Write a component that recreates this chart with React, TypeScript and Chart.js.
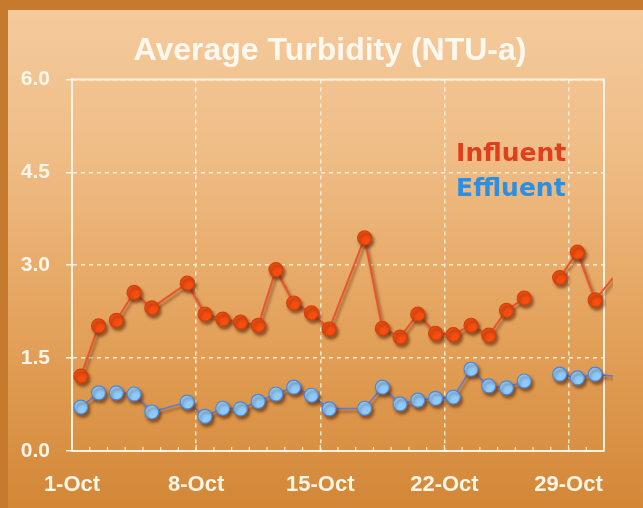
import { useEffect, useRef } from "react";
import { Chart, registerables } from "chart.js";

Chart.register(...registerables);

// ---- data ----
const days = [1, 2, 3, 4, 5, 7, 8, 9, 10, 11, 12, 13, 14, 15, 17, 18, 19, 20, 21, 22, 23, 24, 25, 26, 27, 28, 29, 30, 31];
const influent = [1.21, 2.02, 2.11, 2.56, 2.31, 2.71, 2.21, 2.13, 2.08, 2.03, 2.93, 2.39, 2.23, 1.97, 3.44, 1.98, 1.84, 2.21, 1.9, 1.88, 2.03, 1.87, 2.27, 2.47, null, 2.8, 3.21, 2.44, 2.79];
const effluent = [0.71, 0.94, 0.94, 0.92, 0.63, 0.79, 0.56, 0.69, 0.68, 0.8, 0.92, 1.03, 0.9, 0.68, 0.69, 1.03, 0.76, 0.82, 0.85, 0.87, 1.32, 1.05, 1.02, 1.13, null, 1.24, 1.18, 1.24, 1.21];
const lineBreaksAfterDay = [2];
const axisFirstDay = 1;
const axisLastDay = 30;
const xTickDays = [1, 8, 15, 22, 29];
const xTickLabels = ["1-Oct", "8-Oct", "15-Oct", "22-Oct", "29-Oct"];
const yTicks = [0, 1.5, 3.0, 4.5, 6.0];
const seriesNames = ["Influent", "Effluent"];

const W = 643;
const H = 508;
const FONT = "'Liberation Sans', Arial, sans-serif";

const bgPlugin = {
  id: "bg",
  beforeDraw(chart: any) {
    const { ctx, width, height } = chart;
    ctx.save();
    ctx.fillStyle = "#c67a2d";
    ctx.fillRect(0, 0, width, height);
    const g = ctx.createLinearGradient(0, 10, 0, height);
    g.addColorStop(0, "#f4ca9c");
    g.addColorStop(0.3, "#efbc85");
    g.addColorStop(0.65, "#e3a15a");
    g.addColorStop(1, "#d38737");
    ctx.fillStyle = g;
    ctx.fillRect(8, 10, width - 8, height - 10);
    ctx.restore();
  },
};

const framePlugin = {
  id: "frame",
  beforeDatasetsDraw(chart: any) {
    const { ctx, chartArea } = chart;
    const xs = chart.scales.x;
    ctx.save();
    ctx.strokeStyle = "rgba(255,246,232,0.95)";
    ctx.lineWidth = 2;
    ctx.beginPath();
    ctx.moveTo(chartArea.left, chartArea.top);
    ctx.lineTo(chartArea.right, chartArea.top);
    ctx.lineTo(chartArea.right, chartArea.bottom);
    ctx.stroke();
    // small inner day ticks on x axis
    ctx.lineWidth = 1.2;
    for (let d = axisFirstDay; d <= axisLastDay + 1; d++) {
      const px = xs.getPixelForValue(d - 0.5);
      const major = xTickDays.includes(d);
      ctx.beginPath();
      ctx.moveTo(px, chartArea.bottom);
      ctx.lineTo(px, chartArea.bottom - (major ? 6 : 4));
      ctx.stroke();
    }
    ctx.restore();
  },
};

const shadowPlugin = {
  id: "shadow",
  beforeDatasetDraw(chart: any) {
    const c = chart.ctx;
    c.save();
    c.shadowColor = "rgba(80,30,0,0.55)";
    c.shadowBlur = 3;
    c.shadowOffsetX = 2;
    c.shadowOffsetY = 3;
  },
  afterDatasetDraw(chart: any) {
    chart.ctx.restore();
  },
};

const legendTextPlugin = {
  id: "legendText",
  afterDatasetsDraw(chart: any) {
    const { ctx, chartArea } = chart;
    const w = chartArea.right - chartArea.left;
    const h = chartArea.bottom - chartArea.top;
    const colors = ["#df3f1b", "#2d8fe2"];
    const ys = [0.202, 0.297];
    ctx.save();
    ctx.font = "bold 25px 'DejaVu Sans'";
    ctx.textAlign = "left";
    ctx.textBaseline = "middle";
    chart.data.datasets.forEach((ds: any, i: number) => {
      ctx.fillStyle = colors[i];
      ctx.fillText(ds.label, chartArea.left + 0.722 * w, chartArea.top + ys[i] * h);
    });
    ctx.restore();
  },
};

export default function App() {
  const ref = useRef<HTMLCanvasElement | null>(null);

  useEffect(() => {
    if (!ref.current) return;
    const mk = (vals: (number | null)[]) => days.map((d, i) => ({ x: d, y: vals[i] }));
    const segColor = (color: string) => (ctx: any) =>
      lineBreaksAfterDay.includes(days[ctx.p0DataIndex]) ? "rgba(0,0,0,0)" : color;
    const radius = (r: number) => (ctx: any) => (days[ctx.dataIndex] > axisLastDay ? 0 : r);

    const chart = new Chart(ref.current, {
      type: "line",
      data: {
        datasets: [
          {
            label: seriesNames[0],
            data: mk(influent),
            borderColor: "#e9542b",
            borderWidth: 2,
            backgroundColor: "#f24d12",
            pointBackgroundColor: "#f54e10",
            pointBorderColor: "#d0420c",
            pointBorderWidth: 1.2,
            pointRadius: radius(7),
            pointHoverRadius: radius(7),
            pointStyle: "circle",
            spanGaps: false,
            segment: { borderColor: segColor("#e9542b") },
            clip: { left: 8, top: 8, right: 9, bottom: 8 },
          } as any,
          {
            label: seriesNames[1],
            data: mk(effluent),
            borderColor: "#6479d2",
            borderWidth: 1.6,
            backgroundColor: "#8ecbfb",
            pointBackgroundColor: "#8ecbfb",
            pointBorderColor: "#4a86d6",
            pointBorderWidth: 1.2,
            pointRadius: radius(7),
            pointHoverRadius: radius(7),
            pointStyle: "circle",
            spanGaps: false,
            segment: { borderColor: segColor("#6479d2") },
            clip: { left: 8, top: 8, right: 9, bottom: 8 },
          } as any,
        ],
      },
      options: {
        responsive: false,
        animation: false,
        events: [],
        layout: { padding: { left: 17, right: 0, top: 0, bottom: 0 } },
        plugins: {
          legend: { display: false },
          tooltip: { enabled: false },
          title: {
            display: true,
            text: "Average Turbidity (NTU-a)",
            color: "#fff8ef",
            font: { family: FONT, size: 32, weight: "bold" },
            padding: { top: 32, bottom: 9 },
          },
        },
        scales: {
          x: {
            type: "linear",
            min: axisFirstDay - 0.5,
            max: axisLastDay + 0.5,
            afterBuildTicks: (scale: any) => {
              scale.ticks = xTickDays.map((d) => ({ value: d - 0.5 }));
            },
            afterFit: (scale: any) => {
              scale.height = 57;
            },
            ticks: {
              autoSkip: false,
              maxRotation: 0,
              padding: 21,
              color: "#fff6ea",
              font: { family: FONT, size: 22, weight: "bold" },
              callback: (_v: any, i: number) => xTickLabels[i],
            },
            grid: {
              color: "rgba(255,244,224,0.9)",
              lineWidth: 1.5,
              drawTicks: false,
            },
            border: { color: "#fff3e2", width: 2, dash: [4, 4] },
          },
          y: {
            min: 0,
            max: 6,
            afterBuildTicks: (scale: any) => {
              scale.ticks = yTicks.map((v) => ({ value: v }));
            },
            afterFit: (scale: any) => {
              scale.width = 55;
            },
            ticks: {
              padding: 16,
              color: "#fff6ea",
              font: { family: FONT, size: 21, weight: "bold" },
              callback: (v: any) => Number(v).toFixed(1),
            },
            grid: {
              color: "rgba(255,244,224,0.9)",
              lineWidth: 1.5,
              tickLength: 6,
              tickColor: "#fff3e2",
              tickWidth: 1.5,
            },
            border: { color: "#fff3e2", width: 2, dash: [4, 4] },
          },
          yRight: {
            position: "right",
            display: true,
            min: 0,
            max: 6,
            afterFit: (scale: any) => {
              scale.width = 39;
            },
            ticks: { display: false },
            grid: { drawOnChartArea: false, drawTicks: false },
            border: { display: false },
          },
        },
      } as any,
      plugins: [bgPlugin, framePlugin, shadowPlugin, legendTextPlugin],
    });
    return () => chart.destroy();
  }, []);

  return (
    <div style={{ position: "fixed", left: 0, top: 0, width: W, height: H }}>
      <canvas ref={ref} width={W} height={H} style={{ display: "block" }} />
    </div>
  );
}
